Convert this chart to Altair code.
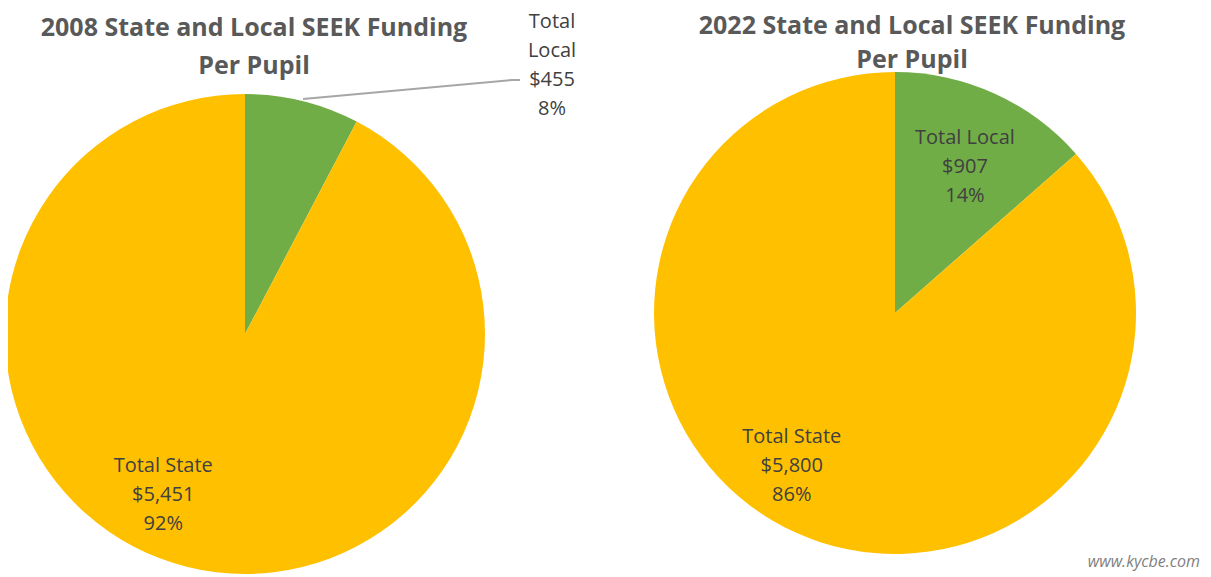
import altair as alt
import pandas as pd

years = ["2008", "2022"]
categories = ["Total Local", "Total State"]
local_values = [455, 907]
state_values = [5451, 5800]
local_pct = ["8%", "14%"]
state_pct = ["92%", "86%"]
titles = ["2008 State and Local SEEK Funding\nPer Pupil", "2022 State and Local SEEK Funding\nPer Pupil"]
colors = ["#70AD47", "#FFC000"]

rows = []
for i, y in enumerate(years):
    rows.append({"year": y, "category": categories[0], "value": local_values[i], "pct": local_pct[i], "order": 0})
    rows.append({"year": y, "category": categories[1], "value": state_values[i], "pct": state_pct[i], "order": 1})
df = pd.DataFrame(rows)
df["label"] = df["category"] + "\n$" + df["value"].map(lambda v: f"{v:,}") + "\n" + df["pct"]
# the 2008 local label is wrapped in the reference
df.loc[(df.year == "2008") & (df.category == "Total Local"), "label"] = (
    "Total\nLocal\n$" + f"{local_values[0]:,}" + "\n" + local_pct[0]
)

FONT = "Open Sans"
TXT = "#404040"
LH = 29
color_scale = alt.Scale(domain=categories, range=colors)

centers = {"2008": (237, 326, 240), "2022": (887, 305, 241)}
label_pos = {
    ("2008", "Total Local"): (240, 249.5, -35 - 1.5 * LH),
    ("2008", "Total State"): (166, -42, -LH),
    ("2022", "Total Local"): (160, 4, -LH),
    ("2022", "Total State"): (168, -34, -LH),
}
title_pos = {"2008": (246, 20, 38), "2022": (904, 18, 34)}

base = alt.Chart(df)
layers = []
for i, y in enumerate(years):
    cx, cy, r = centers[y]
    pie = base.transform_filter(alt.datum.year == y).mark_arc(radius=r).encode(
        theta=alt.Theta("value:Q", stack="normalize"),
        color=alt.Color("category:N", scale=color_scale, legend=None),
        order=alt.Order("order:Q"),
        x=alt.value(cx),
        y=alt.value(cy),
    )
    layers.append(pie)
    for cat in categories:
        R, dx, dy = label_pos[(y, cat)]
        lab = (
            base.transform_filter(alt.datum.year == y)
            .transform_joinaggregate(total="sum(value)")
            .transform_window(cum="sum(value)", sort=[alt.SortField("order", order="ascending")])
            .transform_calculate(mid="(datum.cum - datum.value/2)/datum.total")
            .transform_filter(alt.datum.category == cat)
            .mark_text(radius=R, dx=dx, dy=dy, lineBreak="\n", font=FONT, fontSize=20,
                       lineHeight=LH, color=TXT, align="center", baseline="middle")
            .encode(
                theta=alt.Theta("mid:Q", scale=alt.Scale(domain=[0, 1], range=[0, 6.283185307179586])),
                text="label:N",
                x=alt.value(cx),
                y=alt.value(cy),
            )
        )
        layers.append(lab)
    tx, ty, tlh = title_pos[y]
    t = alt.Chart(pd.DataFrame({"t": [titles[i]]})).mark_text(
        font=FONT, fontSize=25, fontWeight="bold", color="#595959", lineBreak="\n",
        lineHeight=tlh, align="center", baseline="middle"
    ).encode(text="t:N", x=alt.value(tx), y=alt.value(ty))
    layers.append(t)

one = pd.DataFrame({"a": [0]})
leader1 = alt.Chart(one).mark_rule(color="#A6A6A6", strokeWidth=2).encode(
    x=alt.value(295), y=alt.value(91), x2=alt.value(504), y2=alt.value(72))
leader2 = alt.Chart(one).mark_rule(color="#A6A6A6", strokeWidth=2).encode(
    x=alt.value(504), y=alt.value(72), x2=alt.value(512), y2=alt.value(72))
wm = alt.Chart(pd.DataFrame({"t": ["www.kycbe.com"]})).mark_text(
    font=FONT, fontSize=16, fontStyle="italic", color="#7F7F7F", align="right", baseline="middle"
).encode(text="t:N", x=alt.value(1192), y=alt.value(554))

layers += [leader1, leader2, wm]

chart = alt.layer(*layers).resolve_scale(theta="independent").properties(
    width=1195, height=569, autosize=alt.AutoSizeParams(type="none"), padding=0
).configure_view(stroke=None)

chart.save("out.html", embed_options={"renderer": "svg", "actions": False})
